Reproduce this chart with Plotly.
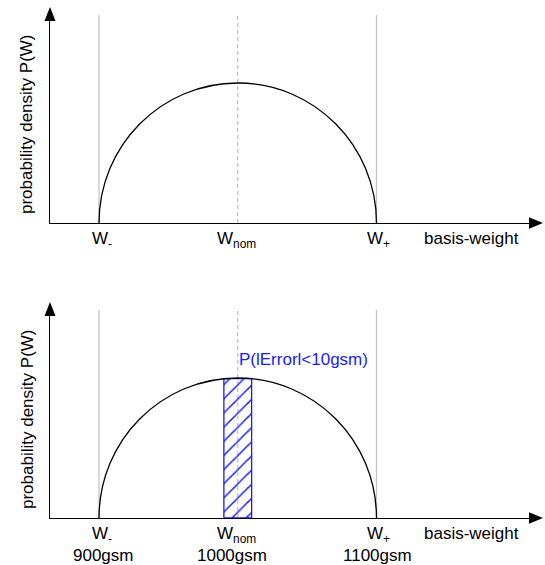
import plotly.graph_objects as go

# ---------------- data ----------------
weights = [900, 1000, 1100]                     # W-, Wnom, W+
weight_symbols = ["W<sub>-</sub>", "W<sub>nom</sub>", "W<sub>+</sub>"]
weight_gsm = ["900gsm", "1000gsm", "1100gsm"]
peak_density = 0.0064                           # P(Wnom)
band = [990, 1010]                              # |Error| < 10 gsm
band_top_density = 0.00637                      # P(W) at the band edges
band_label = "P(lErrorl<10gsm)"
x_title = "basis-weight"
y_title = "probability density P(W)"

# ---------------- layout constants (pixels) ----------------
FIG_W, FIG_H = 545, 565
Y_AXIS_PX = 50
X_END_PX = 540
W_MINUS_PX, W_PLUS_PX = 99, 376.5
AXIS_PX = [223, 518]
TOP_PX = [9, 304]
GRID_TOP_PX = [15, 310]
PEAK_PX = [83, 378]
SYMBOL_XSHIFT = [3, -1, 2]
GSM_XSHIFT = [4, -6, 1]
FONT = "Liberation Sans, Arial, Helvetica, sans-serif"
FS = 17
BLUE = "#1a1aff"

gsm_per_px = (weights[2] - weights[0]) / (W_PLUS_PX - W_MINUS_PX)
x_lo = weights[0] - (W_MINUS_PX - Y_AXIS_PX) * gsm_per_px
x_hi = x_lo + (X_END_PX - Y_AXIS_PX) * gsm_per_px

fig = go.Figure()
shapes = []
annotations = []
K = 0.5523  # cubic Bezier constant for a quarter ellipse

for i in range(2):
    sx = "" if i == 0 else "2"
    xr, yr = "x" + sx, "y" + sx
    dens_per_px = peak_density / (AXIS_PX[i] - PEAK_PX[i])
    y_hi = (AXIS_PX[i] - TOP_PX[i]) * dens_per_px
    grid_top = (AXIS_PX[i] - GRID_TOP_PX[i]) * dens_per_px

    fig.layout["xaxis" + sx] = dict(
        domain=[Y_AXIS_PX / FIG_W, X_END_PX / FIG_W], range=[x_lo, x_hi],
        anchor=yr, showline=True, linecolor="black", linewidth=1.3,
        showgrid=False, zeroline=False, showticklabels=False, ticks="", fixedrange=True)
    fig.layout["yaxis" + sx] = dict(
        domain=[1 - AXIS_PX[i] / FIG_H, 1 - TOP_PX[i] / FIG_H], range=[0, y_hi],
        anchor=xr, showline=True, linecolor="black", linewidth=1.3,
        showgrid=False, zeroline=False, showticklabels=False, ticks="", fixedrange=True)

    # invisible anchor trace so that the subplot exists
    fig.add_trace(go.Scatter(x=weights, y=[0] * len(weights), mode="markers",
                             marker=dict(opacity=0), hoverinfo="skip",
                             showlegend=False, xaxis=xr, yaxis=yr))

    # reference verticals
    for j, w in enumerate(weights):
        shapes.append(dict(type="line", xref=xr, yref=yr, x0=w, x1=w, y0=0, y1=grid_top,
                           layer="below",
                           line=dict(color="#c4c4c4", width=1.3,
                                     dash="4px,3px" if j == 1 else "solid")))

    # semi-elliptical density curve
    a = weights[1] - weights[0]
    b = weights[2] - weights[1]
    path = (f"M {weights[0]},0 "
            f"C {weights[0]},{K * peak_density} {weights[1] - K * a},{peak_density} {weights[1]},{peak_density} "
            f"C {weights[1] + K * b},{peak_density} {weights[2]},{K * peak_density} {weights[2]},0")
    shapes.append(dict(type="path", xref=xr, yref=yr, path=path, layer="above",
                       line=dict(color="black", width=1.3)))

    # arrowheads
    shapes.append(dict(type="path", xref=xr + " domain", yref=yr + " domain",
                       xsizemode="pixel", ysizemode="pixel", xanchor=0, yanchor=1,
                       path="M -5.5,-12 L 5.5,-12 L 0,2 Z", fillcolor="black",
                       line=dict(width=0), layer="above"))
    shapes.append(dict(type="path", xref=xr + " domain", yref=yr + " domain",
                       xsizemode="pixel", ysizemode="pixel", xanchor=1, yanchor=0,
                       path="M -11,5.7 L -11,-5.7 L 3,0 Z", fillcolor="black",
                       line=dict(width=0), layer="above"))

    # axis titles
    annotations.append(dict(text=y_title, xref="paper", yref="paper",
                            x=27 / FIG_W, y=1 - (AXIS_PX[i] - 99) / FIG_H,
                            xanchor="center", yanchor="middle", textangle=-90,
                            showarrow=False, font=dict(family=FONT, size=FS, color="black")))
    annotations.append(dict(text=x_title, xref="paper", yref=yr + " domain",
                            x=521 / FIG_W, y=0, xanchor="right", yanchor="top", yshift=-4,
                            showarrow=False, font=dict(family=FONT, size=FS, color="black")))

    # tick-like labels
    for j, w in enumerate(weights):
        annotations.append(dict(text=weight_symbols[j], xref=xr, yref=yr + " domain", x=w, y=0,
                                xanchor="center", yanchor="top", yshift=-4,
                                xshift=SYMBOL_XSHIFT[j], showarrow=False,
                                font=dict(family=FONT, size=FS, color="black")))
        if i == 1:
            annotations.append(dict(text=weight_gsm[j], xref=xr, yref=yr + " domain", x=w, y=0,
                                    xanchor="center", yanchor="top", yshift=-26,
                                    xshift=GSM_XSHIFT[j], showarrow=False,
                                    font=dict(family=FONT, size=FS, color="black")))

# hatched probability band (bottom panel)
fig.add_trace(go.Bar(x=[(band[0] + band[1]) / 2], y=[band_top_density], width=[band[1] - band[0]],
                     xaxis="x2", yaxis="y2", showlegend=False, hoverinfo="skip",
                     marker=dict(color=BLUE,
                                 line=dict(color=BLUE, width=1.3),
                                 pattern=dict(shape="/", fgcolor=BLUE, bgcolor="rgba(0,0,0,0)",
                                              fgopacity=1, size=10, solidity=0.15,
                                              fillmode="replace"))))
annotations.append(dict(text=band_label, xref="x2", yref="y2", x=weights[1], y=peak_density,
                        xanchor="left", yanchor="bottom", xshift=-1, yshift=7,
                        showarrow=False, font=dict(family=FONT, size=FS, color=BLUE)))

fig.update_layout(width=FIG_W, height=FIG_H, margin=dict(l=0, r=0, t=0, b=0),
                  paper_bgcolor="white", plot_bgcolor="white",
                  shapes=shapes, annotations=annotations, showlegend=False,
                  hovermode=False, font=dict(family=FONT, size=FS))

fig.write_html("out.html", config={"displayModeBar": False, "staticPlot": True},
               post_script="document.body.style.margin='0';")
